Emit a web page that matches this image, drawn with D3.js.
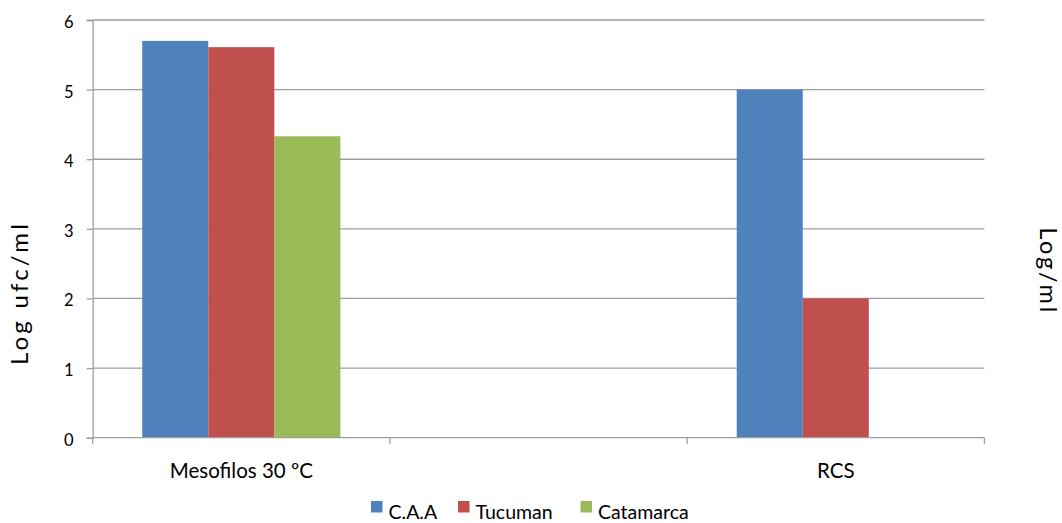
<!DOCTYPE html>
<html>
<head>
<meta charset="utf-8">
<script src="https://cdn.jsdelivr.net/npm/d3@7"></script>
<style>
  html, body { margin: 0; padding: 0; background: #fff; }
  svg { display: block; font-family: Lato, "Open Sans", sans-serif; }
</style>
</head>
<body>
<svg id="chart" width="1062" height="523"></svg>
<script>
// Categories (the middle slot is intentionally empty)
const categories = ["Mesofilos 30 ºC", "", "RCS"];
const seriesNames = ["C.A.A", "Tucuman", "Catamarca"];
const caa       = [5.70, null, 5.00];
const tucuman   = [5.61, null, 2.00];
const catamarca = [4.33, null, null];
const yTicks = [0, 1, 2, 3, 4, 5, 6];
const colors = ["#4F81BD", "#C0504D", "#9BBB59"];

const seriesValues = [caa, tucuman, catamarca];

const svg = d3.select("#chart");
const W = 1062, H = 523;
const margin = { left: 92.7, right: W - 984.4, top: 20, bottom: H - 437.7 };

const x = d3.scaleBand()
  .domain(d3.range(categories.length))
  .range([margin.left, W - margin.right])
  .paddingInner(0).paddingOuter(0);

const inner = d3.scaleBand()
  .domain(seriesNames)
  .range([0, x.bandwidth()])
  .paddingOuter(0.75)
  .paddingInner(0);

const y = d3.scaleLinear().domain([0, 6]).range([H - margin.bottom, margin.top]);

const gridColor = "#9d9d9d";

// Gridlines
svg.append("g")
  .selectAll("line")
  .data(yTicks.filter(d => d > 0))
  .join("line")
  .attr("x1", margin.left).attr("x2", W - margin.right)
  .attr("y1", d => y(d)).attr("y2", d => y(d))
  .attr("stroke", gridColor).attr("stroke-width", 1.3);

// Bars
const groups = svg.append("g")
  .selectAll("g")
  .data(seriesNames.map((name, i) => ({ name, i, values: seriesValues[i] })))
  .join("g")
  .attr("fill", d => colors[d.i]);

groups.selectAll("rect")
  .data(d => d.values.map((v, c) => ({ v, c, name: d.name })).filter(e => e.v != null))
  .join("rect")
  .attr("x", d => x(d.c) + inner(d.name))
  .attr("width", inner.bandwidth())
  .attr("y", d => y(d.v))
  .attr("height", d => y(0) - y(d.v));

// Left axis
const yAxis = svg.append("g")
  .attr("transform", `translate(${margin.left},0)`)
  .call(d3.axisLeft(y).tickValues(yTicks).tickSize(6).tickPadding(13).tickFormat(d3.format("d")));
yAxis.select(".domain").attr("stroke", gridColor).attr("stroke-width", 1.3);
yAxis.selectAll(".tick line").attr("stroke", gridColor).attr("stroke-width", 1.3);
yAxis.selectAll(".tick text").attr("fill", "#000").attr("dy", "0.45em")
  .style("font-size", "16.5px")
  .style("font-family", "Lato, sans-serif");

// Bottom axis with tick marks at slot boundaries
const xBase = y(0);
svg.append("line")
  .attr("x1", margin.left).attr("x2", W - margin.right)
  .attr("y1", xBase).attr("y2", xBase)
  .attr("stroke", gridColor).attr("stroke-width", 1.3);
const boundaries = d3.range(categories.length + 1).map(i => margin.left + i * x.step());
svg.append("g").selectAll("line")
  .data(boundaries)
  .join("line")
  .attr("x1", d => d).attr("x2", d => d)
  .attr("y1", xBase).attr("y2", xBase + 6)
  .attr("stroke", gridColor).attr("stroke-width", 1.3);

svg.append("g").selectAll("text")
  .data(categories)
  .join("text")
  .attr("x", (d, i) => x(i) + x.bandwidth() / 2)
  .attr("y", 478)
  .attr("text-anchor", "middle")
  .style("font-size", "20.5px")
  .attr("fill", "#000")
  .text(d => d);

// Axis titles
svg.append("text")
  .attr("transform", "translate(28,293) rotate(-90)")
  .attr("text-anchor", "middle")
  .style("font-size", "24px")
  .style("letter-spacing", "3.2px")
  .attr("fill", "#000")
  .text("Log ufc/ml");

svg.append("text")
  .attr("transform", "translate(1040,271) rotate(90)")
  .attr("text-anchor", "middle")
  .style("font-size", "23.5px")
  .style("letter-spacing", "2.7px")
  .attr("fill", "#000")
  .text("Log/ml");

// Legend
const legendX = [371, 458, 580.5];
const legend = svg.append("g").selectAll("g")
  .data(seriesNames)
  .join("g")
  .attr("transform", (d, i) => `translate(${legendX[i]},501)`);
legend.append("rect").attr("width", 11.5).attr("height", 11.5).attr("fill", (d, i) => colors[i]);
legend.append("text")
  .attr("x", 17.5).attr("y", 18)
  .style("font-size", "19.5px")
  .attr("fill", "#000")
  .text(d => d);
</script>
</body>
</html>
